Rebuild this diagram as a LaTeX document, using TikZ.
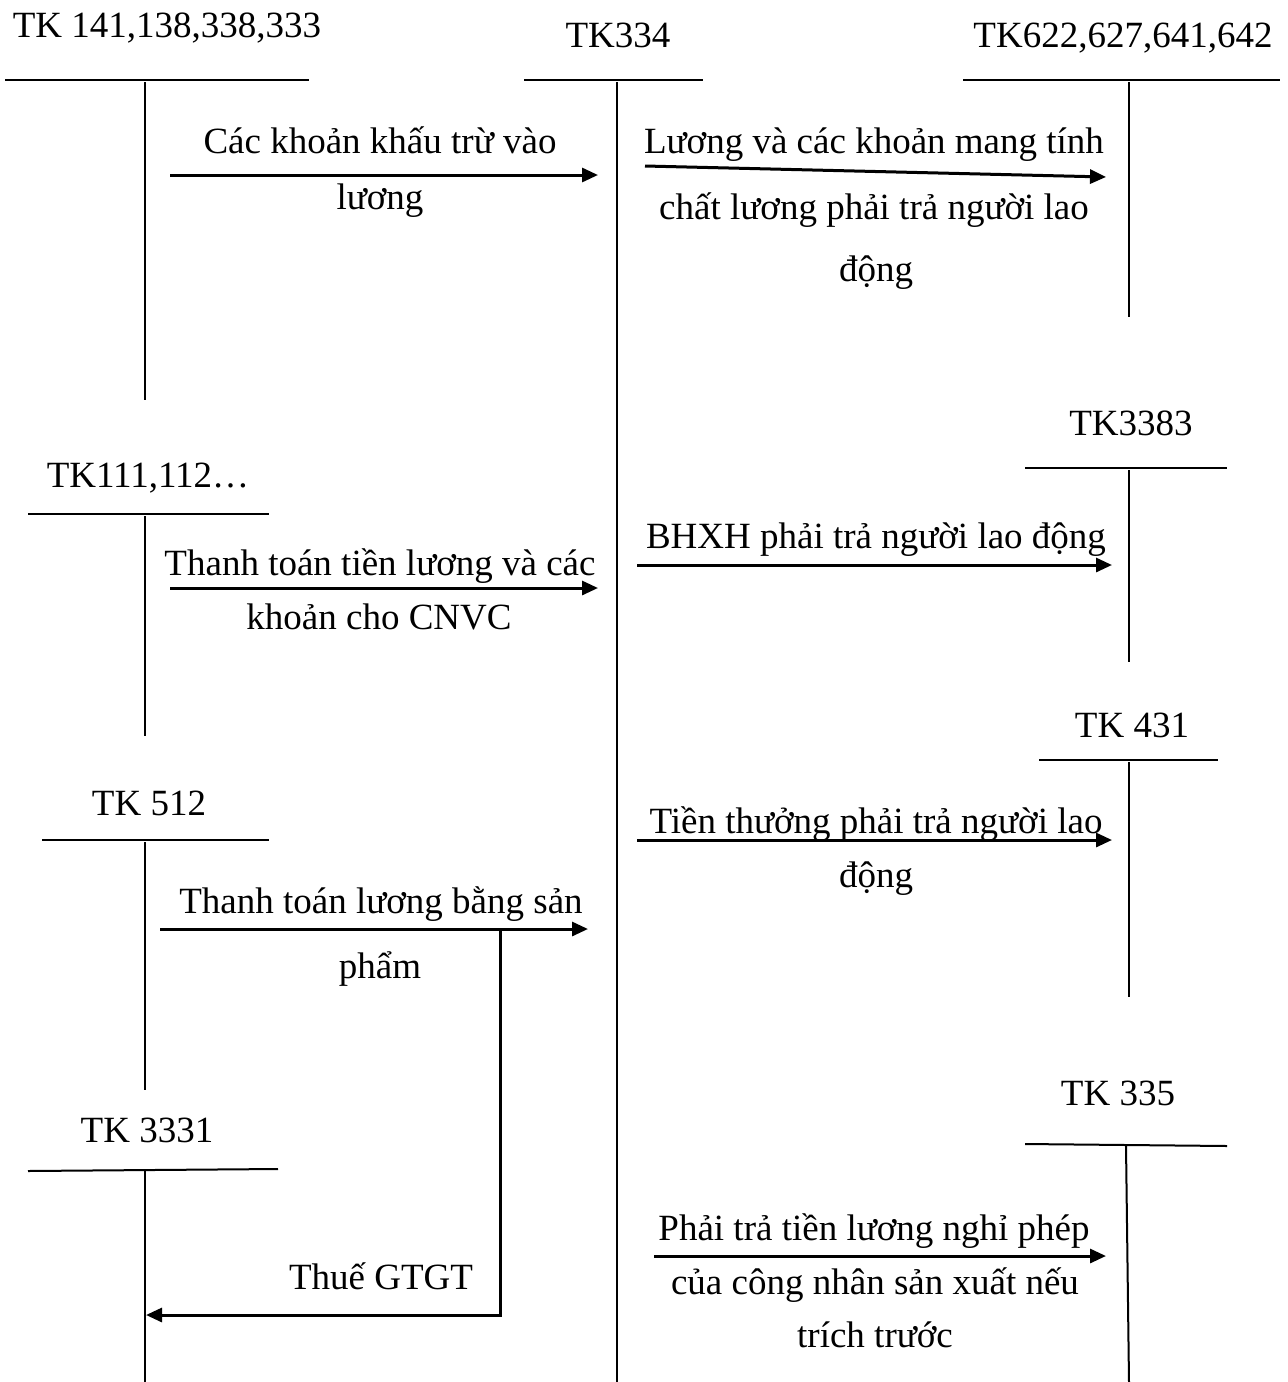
\documentclass[tikz,border=0pt]{standalone}
\usepackage{fontspec}
\setmainfont{Liberation Serif}
\usetikzlibrary{arrows.meta}

\begin{document}
\begin{tikzpicture}[x=0.5pt,y=-0.5pt,font=\fontsize{18.5}{22}\selectfont,
  txt/.style={inner sep=0pt,anchor=base},
  tline/.style={line width=1pt},
  flow/.style={line width=1.5pt,-{Triangle[length=8pt,width=7pt]}}]
  \useasboundingbox (0,0) rectangle (1288,1382);

  % account titles
  \node[txt] (tk141) at (167,37) {TK 141,138,338,333};
  \node[txt] (tk334) at (618,47) {TK334};
  \node[txt] (tk622) at (1123,47) {TK622,627,641,642};
  \node[txt] (tk3383) at (1131,435) {TK3383};
  \node[txt] (tk111) at (148,487) {TK111,112…};
  \node[txt] (tk431) at (1132,737) {TK 431};
  \node[txt] (tk512) at (149,815) {TK 512};
  \node[txt] (tk335) at (1118,1105) {TK 335};
  \node[txt] (tk3331) at (147,1142) {TK 3331};

  % T accounts
  \draw[tline] (5,80) -- (309,80);
  \draw[tline] (145,82) -- (145,400);
  \draw[tline] (524,80) -- (703,80);
  \draw[tline] (617,82) -- (617,1382);
  \draw[tline] (963,80) -- (1280,80);
  \draw[tline] (1129,82) -- (1129,317);
  \draw[tline] (1025,468) -- (1227,468);
  \draw[tline] (1129,470) -- (1129,662);
  \draw[tline] (28,514) -- (269,514);
  \draw[tline] (145,516) -- (145,736);
  \draw[tline] (1039,760) -- (1218,760);
  \draw[tline] (1129,762) -- (1129,997);
  \draw[tline] (42,840) -- (269,840);
  \draw[tline] (145,842) -- (145,1090);
  \draw[tline] (1025,1144) -- (1227,1146);
  \draw[tline] (1126,1145) -- (1129,1382);
  \draw[tline] (28,1171) -- (278,1169);
  \draw[tline] (145,1171) -- (145,1382);

  % arrow ends
  \coordinate (a1s) at (170,175);
  \coordinate (a1e) at (598,175);
  \coordinate (a2s) at (645,166);
  \coordinate (a2e) at (1106,177);
  \coordinate (a3s) at (637,565);
  \coordinate (a3e) at (1112,565);
  \coordinate (a4s) at (170,588);
  \coordinate (a4e) at (598,588);
  \coordinate (a5s) at (637,840);
  \coordinate (a5e) at (1112,840);
  \coordinate (a6s) at (160,929);
  \coordinate (a6e) at (588,929);
  \coordinate (a7s) at (500,929);
  \coordinate (a7c) at (500,1315);
  \coordinate (a7e) at (146,1315);
  \coordinate (a8s) at (654,1256);
  \coordinate (a8e) at (1106,1256);

  \draw[flow] (a1s) -- (a1e);
  \draw[flow] (a2s) -- (a2e);
  \draw[flow] (a3s) -- (a3e);
  \draw[flow] (a4s) -- (a4e);
  \draw[flow] (a5s) -- (a5e);
  \draw[flow] (a6s) -- (a6e);
  \draw[flow] (a7s) -- (a7c) -- (a7e);
  \draw[flow] (a8s) -- (a8e);

  % labels
  \node[txt] (l1a) at (380,153) {Các khoản khấu trừ vào};
  \node[txt] (l1b) at (380,209) {lương};
  \node[txt] (l2a) at (874,153) {Lương và các khoản mang tính};
  \node[txt] (l2b) at (874,219) {chất lương phải trả người lao};
  \node[txt] (l2c) at (876,281) {động};
  \node[txt] (l3) at (876,548) {BHXH phải trả người lao động};
  \node[txt] (l4a) at (380,575) {Thanh toán tiền lương và các};
  \node[txt] (l4b) at (379,629) {khoản cho CNVC};
  \node[txt] (l5a) at (876,833) {Tiền thưởng phải trả người lao};
  \node[txt] (l5b) at (876,887) {động};
  \node[txt] (l6a) at (381,913) {Thanh toán lương bằng sản};
  \node[txt] (l6b) at (380,978) {phẩm};
  \node[txt] (l7) at (381,1289) {Thuế GTGT};
  \node[txt] (l8a) at (874,1240) {Phải trả tiền lương nghỉ phép};
  \node[txt] (l8b) at (875,1294) {của công nhân sản xuất nếu};
  \node[txt] (l8c) at (875,1347) {trích trước};
\end{tikzpicture}
\end{document}
